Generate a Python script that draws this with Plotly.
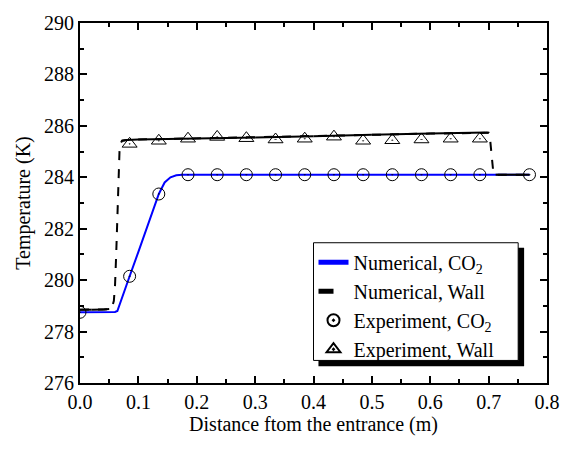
import plotly.graph_objects as go

# Numerical CO2 (blue solid)
x_num_co2 = [0.0, 0.03, 0.06, 0.064, 0.07, 0.085, 0.10, 0.12, 0.135, 0.145, 0.155, 0.165, 0.175, 0.3, 0.5, 0.7, 0.77]
y_num_co2 = [278.75, 278.75, 278.76, 278.8, 279.2, 280.15, 281.1, 282.4, 283.35, 283.8, 284.0, 284.08, 284.1, 284.1, 284.1, 284.1, 284.1]

# Numerical wall (black dashed)
x_num_wall = [0.0, 0.02, 0.04, 0.05, 0.055, 0.058, 0.060, 0.062, 0.064, 0.066, 0.068, 0.072, 0.08, 0.1, 0.2, 0.3,
              0.4, 0.5, 0.6, 0.695, 0.700, 0.702, 0.704, 0.706, 0.708, 0.712, 0.72, 0.77]
y_num_wall = [278.85, 278.85, 278.86, 278.88, 278.95, 279.2, 279.8, 281.0, 282.8, 284.6, 285.25, 285.42, 285.45,
              285.47, 285.51, 285.55, 285.6, 285.65, 285.7, 285.74, 285.73, 285.6, 285.2, 284.6, 284.2, 284.1, 284.1, 284.1]

# Experiment CO2 (circles)
x_exp_co2 = [0.0, 0.085, 0.135, 0.185, 0.235, 0.285, 0.335, 0.385, 0.435, 0.485, 0.535, 0.585, 0.635, 0.685, 0.77]
y_exp_co2 = [278.75, 280.15, 283.35, 284.1, 284.1, 284.1, 284.1, 284.1, 284.1, 284.1, 284.1, 284.1, 284.1, 284.1, 284.1]

# Experiment wall (triangles)
x_exp_wall = [0.085, 0.135, 0.185, 0.235, 0.285, 0.335, 0.385, 0.435, 0.485, 0.535, 0.585, 0.635, 0.685]
y_exp_wall = [285.3, 285.42, 285.5, 285.57, 285.52, 285.47, 285.5, 285.58, 285.42, 285.44, 285.47, 285.5, 285.5]

FONT = "'Liberation Serif'"

fig = go.Figure()

fig.add_trace(go.Scatter(x=x_num_co2, y=y_num_co2, mode="lines", name="Numerical, CO<sub>2</sub>",
                         line=dict(color="#0000ff", width=2)))
fig.add_trace(go.Scatter(x=x_num_wall, y=y_num_wall, mode="lines", name="Numerical, Wall",
                         line=dict(color="black", width=2, dash="dash")))

# solid overlay where the wall curve is flat (dense data look)
xs, ys = [], []
for i in range(len(x_num_wall) - 1):
    slope = abs((y_num_wall[i + 1] - y_num_wall[i]) / (x_num_wall[i + 1] - x_num_wall[i]))
    if slope < 5:
        xs += [x_num_wall[i], x_num_wall[i + 1], None]
        ys += [y_num_wall[i], y_num_wall[i + 1], None]
fig.add_trace(go.Scatter(x=xs, y=ys, mode="lines", showlegend=False, hoverinfo="skip",
                         line=dict(color="black", width=2)))

fig.add_trace(go.Scatter(x=x_exp_co2, y=y_exp_co2, mode="markers", name="Experiment, CO<sub>2</sub>",
                         marker=dict(symbol="circle-open-dot", size=12, color="black", line=dict(width=1))))
fig.add_trace(go.Scatter(x=x_exp_wall, y=y_exp_wall, mode="markers", name="Experiment, Wall",
                         marker=dict(symbol="triangle-up-open-dot", size=13, color="black", line=dict(width=1))))

axis_common = dict(showline=True, linecolor="black", linewidth=2, mirror="ticks", ticks="inside",
                   ticklen=7, tickwidth=1.5, tickcolor="black", showgrid=False, zeroline=False,
                   tickfont=dict(family=FONT, size=20))

fig.update_xaxes(range=[0, 0.8], dtick=0.1, tickformat=".1f",
                 minor=dict(ticks="inside", ticklen=4, dtick=0.05, tickcolor="black", tickwidth=1.5),
                 title=dict(text="Distance ftom the entrance (m)", font=dict(family=FONT, size=20),
                            standoff=2),
                 **axis_common)
fig.update_yaxes(range=[276, 290], dtick=2,
                 minor=dict(ticks="inside", ticklen=4, dtick=1, tickcolor="black", tickwidth=1.5),
                 title=dict(text="Temperature (K)", font=dict(family=FONT, size=20), standoff=8),
                 **axis_common)

# legend shadow and box
fig.add_shape(type="rect", xref="paper", yref="paper", x0=0.5106, x1=0.951, y0=0.0463, y1=0.376,
              fillcolor="black", line=dict(width=0), layer="above")
fig.add_shape(type="rect", xref="paper", yref="paper", x0=0.5, x1=0.9383, y0=0.0627, y1=0.3896,
              fillcolor="white", line=dict(color="black", width=1), layer="above")

fig.update_layout(
    width=572, height=449,
    margin=dict(l=80, r=22, t=16, b=66),
    plot_bgcolor="white", paper_bgcolor="white",
    font=dict(family=FONT, size=20, color="black"),
    legend=dict(x=0.5, y=0.3896, xanchor="left", yanchor="top", bgcolor="rgba(0,0,0,0)",
                borderwidth=0, font=dict(family=FONT, size=20),
                itemsizing="constant", tracegroupgap=0),
)

fig.write_html("out.html")
